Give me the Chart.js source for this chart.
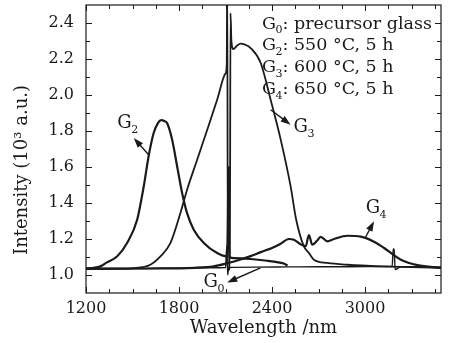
<!DOCTYPE html>
<html>
<head>
<meta charset="utf-8">
<title>Emission spectra G0-G4</title>
<script src="https://cdn.jsdelivr.net/npm/chart.js"></script>
<style>
  html, body { margin: 0; padding: 0; background: #fff; }
  #wrap { width: 449px; height: 343px; }
</style>
</head>
<body>
<div id="wrap"><canvas id="spectraChart" width="449" height="343"></canvas></div>
<script>
// wavelength (nm) / intensity (10^3 a.u.)
const g0Wavelength = [1200, 1400, 1600, 1800, 2000, 2100, 2108, 2114, 2120, 2300, 2500, 2700, 2900, 3100, 3175, 3182, 3188, 3194, 3230, 3350, 3490];
const g0Intensity  = [1.033, 1.034, 1.036, 1.038, 1.040, 1.041, 1.16, 1.00, 1.042, 1.044, 1.045, 1.046, 1.046, 1.047, 1.048, 1.145, 1.145, 1.03, 1.046, 1.046, 1.045];

const g2Wavelength = [1200, 1250, 1292, 1335, 1400, 1465, 1530, 1572, 1604, 1637, 1665, 1685, 1705, 1723, 1756, 1788, 1820, 1852, 1895, 1960, 2046, 2110, 2121, 2126, 2154, 2262, 2369, 2440, 2480, 2500];
const g2Intensity  = [1.036, 1.040, 1.048, 1.070, 1.103, 1.178, 1.307, 1.49, 1.66, 1.79, 1.845, 1.86, 1.856, 1.844, 1.75, 1.603, 1.456, 1.344, 1.252, 1.178, 1.122, 1.103, 1.60, 1.10, 1.094, 1.089, 1.079, 1.070, 1.062, 1.052];

const g3Wavelength = [1200, 1400, 1508, 1615, 1680, 1745, 1809, 1852, 1917, 1982, 2046, 2100, 2108, 2111, 2115, 2128, 2132, 2138, 2150, 2175, 2197, 2225, 2262, 2327, 2391, 2456, 2520, 2556, 2605, 2638, 2670, 2757, 2886, 3100, 3300, 3490];
const g3Intensity  = [1.035, 1.035, 1.038, 1.057, 1.103, 1.178, 1.344, 1.474, 1.64, 1.807, 1.974, 2.12, 2.17, 2.70, 1.03, 1.03, 2.455, 2.30, 2.255, 2.275, 2.285, 2.28, 2.261, 2.178, 1.974, 1.752, 1.492, 1.307, 1.16, 1.122, 1.085, 1.067, 1.057, 1.048, 1.044, 1.040];

const g4Wavelength = [1200, 1600, 1900, 2024, 2110, 2197, 2262, 2327, 2400, 2456, 2509, 2541, 2585, 2617, 2638, 2660, 2690, 2714, 2757, 2800, 2886, 2972, 3058, 3123, 3186, 3231, 3338, 3490];
const g4Intensity  = [1.035, 1.036, 1.040, 1.048, 1.065, 1.086, 1.105, 1.127, 1.150, 1.174, 1.20, 1.196, 1.17, 1.16, 1.222, 1.168, 1.19, 1.212, 1.187, 1.20, 1.218, 1.213, 1.185, 1.15, 1.11, 1.085, 1.055, 1.040];

const xTickLabels = [1200, 1800, 2400, 3000];
const xMinorTicks = [1350, 1500, 1650, 1950, 2100, 2250, 2550, 2700, 2850, 3150, 3300, 3450];
const yTickLabels = [1.0, 1.2, 1.4, 1.6, 1.8, 2.0, 2.2, 2.4];
const yMinorTicks = [1.1, 1.3, 1.5, 1.7, 1.9, 2.1, 2.3];

const legendSubs  = ['0', '2', '3', '4'];
const legendTexts = [': precursor glass', ': 550 °C, 5 h', ': 600 °C, 5 h', ': 650 °C, 5 h'];

// curve labels with arrows, in data coordinates
const curveNotes = [
    { sub: '2', at: [1402, 1.818], from: [1604, 1.668], to: [1508, 1.761] },
    { sub: '3', at: [2539, 1.796], from: [2391, 1.918], to: [2520, 1.835] },
    { sub: '4', at: [3004, 1.346], from: [3004, 1.211], to: [3058, 1.298] },
    { sub: '0', at: [1958, 0.935], from: [2326, 1.039], to: [2111, 0.959] },
];

const SERIF = '"DejaVu Serif", "Liberation Serif", serif';
const INK = '#1a1a1a';

const toPoints = (xs, ys) => xs.map((x, i) => ({ x: x, y: ys[i] }));

function drawG(ctx, sub, x, y, size) {
    ctx.font = `${size}px ${SERIF}`;
    ctx.fillText('G', x, y);
    const w = ctx.measureText('G').width;
    ctx.font = `${Math.round(size * 0.62)}px ${SERIF}`;
    ctx.fillText(sub, x + w - 0.5, y + size * 0.28);
    return w + ctx.measureText(sub).width - 0.5;
}

function drawArrow(ctx, x1, y1, x2, y2) {
    const a = Math.atan2(y2 - y1, x2 - x1);
    const c = Math.cos(a), s = Math.sin(a);
    ctx.beginPath();
    ctx.moveTo(x1, y1);
    ctx.lineTo(x2 - 6 * c, y2 - 6 * s);
    ctx.stroke();
    ctx.beginPath();
    ctx.moveTo(x2, y2);
    ctx.lineTo(x2 - 10 * c + 3.5 * s, y2 - 10 * s - 3.5 * c);
    ctx.lineTo(x2 - 10 * c - 3.5 * s, y2 - 10 * s + 3.5 * c);
    ctx.closePath();
    ctx.fill();
}

// frame with inward ticks on all four sides, titles, legend text and arrows
const decorations = {
    id: 'decorations',
    afterDatasetsDraw(chart) {
        const { ctx, chartArea: area, scales: { x, y } } = chart;
        ctx.save();
        ctx.strokeStyle = INK;
        ctx.fillStyle = INK;
        ctx.lineWidth = 1.2;
        ctx.strokeRect(area.left, area.top, area.right - area.left, area.bottom - area.top);

        ctx.lineWidth = 1;
        ctx.beginPath();
        const xt = (v, len) => {
            const px = Math.round(x.getPixelForValue(v)) + 0.5;
            ctx.moveTo(px, area.bottom); ctx.lineTo(px, area.bottom - len);
            ctx.moveTo(px, area.top); ctx.lineTo(px, area.top + len);
        };
        const yt = (v, len) => {
            const py = Math.round(y.getPixelForValue(v)) + 0.5;
            ctx.moveTo(area.left, py); ctx.lineTo(area.left + len, py);
            ctx.moveTo(area.right, py); ctx.lineTo(area.right - len, py);
        };
        xTickLabels.forEach(v => xt(v, 6));
        xMinorTicks.forEach(v => xt(v, 4));
        yTickLabels.forEach(v => yt(v, 6));
        yMinorTicks.forEach(v => yt(v, 4));
        ctx.stroke();

        // axis titles
        ctx.textAlign = 'center';
        ctx.textBaseline = 'middle';
        ctx.font = `18px ${SERIF}`;
        ctx.fillText('Wavelength /nm', (area.left + area.right) / 2, 328);
        ctx.save();
        ctx.translate(22, 170);
        ctx.rotate(-Math.PI / 2);
        ctx.fillText('Intensity (10³ a.u.)', 0, 0);
        ctx.restore();

        // legend block, top right
        ctx.textAlign = 'left';
        ctx.textBaseline = 'alphabetic';
        legendSubs.forEach((sub, i) => {
            const bx = 262, by = 28.5 + i * 21.7;
            const w = drawG(ctx, sub, bx, by, 17.5);
            ctx.font = `17.5px ${SERIF}`;
            ctx.fillText(legendTexts[i], bx + w, by);
        });

        // curve labels
        ctx.lineWidth = 1.4;
        curveNotes.forEach(n => {
            drawG(ctx, n.sub, x.getPixelForValue(n.at[0]), y.getPixelForValue(n.at[1]), 18);
            drawArrow(ctx,
                x.getPixelForValue(n.from[0]), y.getPixelForValue(n.from[1]),
                x.getPixelForValue(n.to[0]), y.getPixelForValue(n.to[1]));
        });
        ctx.restore();
    }
};

const series = [
    { label: 'G0', xs: g0Wavelength, ys: g0Intensity, width: 1.4 },
    { label: 'G2', xs: g2Wavelength, ys: g2Intensity, width: 2.2 },
    { label: 'G3', xs: g3Wavelength, ys: g3Intensity, width: 1.8 },
    { label: 'G4', xs: g4Wavelength, ys: g4Intensity, width: 2.2 },
];

new Chart(document.getElementById('spectraChart'), {
    type: 'line',
    data: {
        datasets: series.map(s => ({
            label: s.label,
            data: toPoints(s.xs, s.ys),
            borderColor: INK,
            borderWidth: s.width,
            pointRadius: 0,
            cubicInterpolationMode: 'monotone',
            fill: false,
        })),
    },
    options: {
        responsive: false,
        animation: false,
        events: [],
        layout: { padding: { top: 5, right: 8, left: 0, bottom: 0 } },
        plugins: {
            legend: { display: false },
            tooltip: { enabled: false },
        },
        scales: {
            x: {
                type: 'linear',
                min: 1200,
                max: 3490,
                afterBuildTicks: axis => { axis.ticks = xTickLabels.map(v => ({ value: v })); },
                afterFit: axis => {
                    axis.height = 50;
                    axis.paddingLeft = 0;
                    axis.paddingRight = 0;
                },
                grid: { display: false },
                border: { display: false },
                ticks: {
                    autoSkip: false,
                    maxRotation: 0,
                    padding: -2,
                    color: INK,
                    font: { family: SERIF, size: 16 },
                    callback: v => String(v),
                },
            },
            y: {
                type: 'linear',
                min: 0.9,
                max: 2.5,
                afterBuildTicks: axis => { axis.ticks = yTickLabels.map(v => ({ value: v })); },
                afterFit: axis => {
                    axis.width = 86;
                    axis.paddingTop = 0;
                    axis.paddingBottom = 0;
                },
                grid: { display: false },
                border: { display: false },
                ticks: {
                    autoSkip: false,
                    padding: 4,
                    color: INK,
                    font: { family: SERIF, size: 16 },
                    callback: v => v.toFixed(1),
                },
            },
        },
    },
    plugins: [decorations],
});
</script>
</body>
</html>
